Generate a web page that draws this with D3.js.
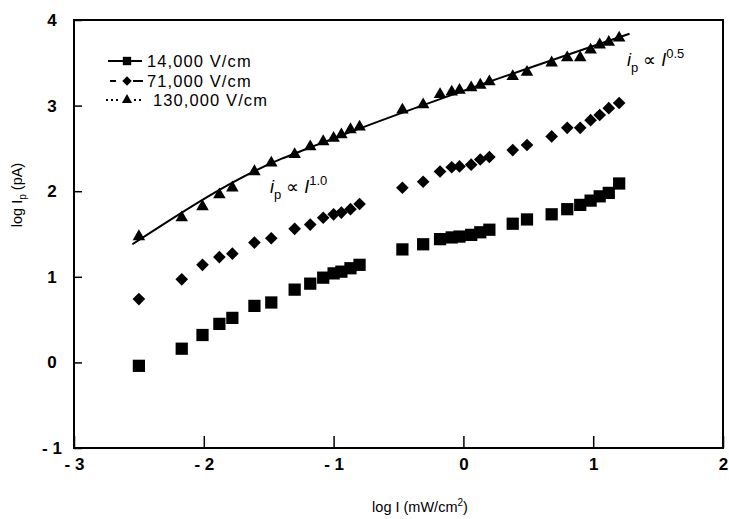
<!DOCTYPE html>
<html>
<head>
<meta charset="utf-8">
<script src="https://cdn.jsdelivr.net/npm/d3@7"></script>
<style>
  html, body { margin: 0; padding: 0; background: #fff; }
  svg { display: block; }
  text { font-family: "Liberation Sans", Arial, Helvetica, sans-serif; fill: #000; }
</style>
</head>
<body>
<svg id="chart" width="729" height="519"></svg>
<script>
// ---------------- data ----------------
const seriesNames = ["14,000 V/cm", "71,000 V/cm", "130,000 V/cm"];
const logI = [-2.50, -2.17, -2.01, -1.88, -1.78, -1.61, -1.48, -1.30, -1.18, -1.08, -1.00, -0.94, -0.87, -0.80,
              -0.47, -0.31, -0.18, -0.09, -0.03, 0.06, 0.13, 0.20, 0.38, 0.49, 0.68, 0.80, 0.90, 0.98, 1.05, 1.12, 1.20];
const ip14000 = [-0.04, 0.16, 0.32, 0.45, 0.52, 0.66, 0.70, 0.85, 0.92, 0.99, 1.04, 1.06, 1.10, 1.14,
                 1.32, 1.38, 1.44, 1.46, 1.47, 1.49, 1.52, 1.55, 1.62, 1.67, 1.73, 1.79, 1.84, 1.89, 1.94, 1.98, 2.09];
const ip71000 = [0.74, 0.97, 1.14, 1.23, 1.27, 1.40, 1.45, 1.56, 1.61, 1.69, 1.73, 1.75, 1.79, 1.85,
                 2.04, 2.11, 2.23, 2.28, 2.29, 2.31, 2.37, 2.40, 2.48, 2.54, 2.64, 2.74, 2.74, 2.83, 2.89, 2.97, 3.03];
const ip130000 = [1.47, 1.69, 1.82, 1.96, 2.04, 2.23, 2.33, 2.43, 2.52, 2.58, 2.62, 2.66, 2.72, 2.75,
                  2.95, 3.01, 3.13, 3.16, 3.18, 3.21, 3.24, 3.28, 3.34, 3.39, 3.50, 3.56, 3.56, 3.65, 3.71, 3.74, 3.79];
// fitted curve through the 130,000 V/cm data
const fitX = [-2.55, -1.40, -1.25, 1.28];
const fitY = [1.38, 2.38, 2.47, 3.84];
const xTicks = [-3, -2, -1, 0, 1, 2];
const xTickLabels = ["- 3", "- 2", "- 1", "0", "1", "2"];
const yTicks = [-1, 0, 1, 2, 3, 4];
const yTickLabels = ["- 1", "0", "1", "2", "3", "4"];

// ---------------- layout ----------------
const svg = d3.select("#chart");
const x = d3.scaleLinear().domain([-3, 2]).range([74, 723]);
const y = d3.scaleLinear().domain([-1, 4]).range([448, 20]);

// frame
svg.append("rect")
  .attr("x", x(-3)).attr("y", y(4))
  .attr("width", x(2) - x(-3)).attr("height", y(-1) - y(4))
  .attr("fill", "none").attr("stroke", "#000").attr("stroke-width", 2);

// x axis (ticks inward)
const xAxis = d3.axisBottom(x).tickValues(xTicks).tickSizeInner(-12).tickSizeOuter(0)
  .tickPadding(10).tickFormat((d, i) => xTickLabels[i]);
const gx = svg.append("g").attr("transform", `translate(0,${y(-1)})`).call(xAxis);
gx.select(".domain").remove();
gx.selectAll("line").attr("stroke", "#000").attr("stroke-width", 1.5);
gx.selectAll("text").attr("font-size", 17).attr("font-weight", "bold")
  .style("font-family", '"Liberation Sans", Arial, sans-serif');

// y axis (ticks inward)
const yAxis = d3.axisLeft(y).tickValues(yTicks).tickSizeInner(-8).tickSizeOuter(0)
  .tickFormat((d, i) => yTickLabels[i]);
const gy = svg.append("g").attr("transform", `translate(${x(-3)},0)`).call(yAxis);
gy.select(".domain").remove();
gy.selectAll("line").attr("stroke", "#000").attr("stroke-width", 1.5);
gy.selectAll("text").attr("font-size", 17).attr("font-weight", "bold")
  .attr("x", -22).attr("text-anchor", "middle")
  .style("font-family", '"Liberation Sans", Arial, sans-serif');

// axis titles
const xt = svg.append("text").attr("x", 420).attr("y", 512).attr("text-anchor", "middle")
  .attr("font-size", 14.5);
xt.append("tspan").text("log I (mW/cm");
xt.append("tspan").attr("font-size", 10).attr("dy", -6).text("2");
xt.append("tspan").attr("dy", 6).text(")");

const yt = svg.append("text").attr("transform", "translate(22,195) rotate(-90)")
  .attr("text-anchor", "middle").attr("font-size", 14.5);
yt.append("tspan").text("log I");
yt.append("tspan").attr("font-size", 10).attr("dy", 4).text("p");
yt.append("tspan").attr("dy", -4).text(" (pA)");

// fitted line
const fit = fitX.map((v, i) => [v, fitY[i]]);
svg.append("path").datum(fit)
  .attr("d", d3.line().x(d => x(d[0])).y(d => y(d[1])).curve(d3.curveMonotoneX))
  .attr("fill", "none").attr("stroke", "#000").attr("stroke-width", 2);

// markers
const sym = {
  square: d3.symbol().type(d3.symbolSquare),
  diamond: d3.symbol().type(d3.symbolSquare),
  triangle: d3.symbol().type(d3.symbolTriangle)
};
const series = [
  { vals: ip14000, shape: "square", size: 150, rot: 0 },
  { vals: ip71000, shape: "diamond", size: 80, rot: 45 },
  { vals: ip130000, shape: "triangle", size: 68, rot: 0 }
];
series.forEach(s => {
  svg.append("g").selectAll("path").data(s.vals).join("path")
    .attr("d", sym[s.shape].size(s.size)())
    .attr("transform", (d, i) => `translate(${x(logI[i])},${y(d)}) rotate(${s.rot})`)
    .attr("fill", "#000");
});

// legend
const legRows = [
  { y: 61, segs: [[108, 142, null]], shape: "square", size: 70, rot: 0, tx: 147 },
  { y: 81, segs: [[110, 116, null], [133, 143, null]], shape: "diamond", size: 45, rot: 45, tx: 147 },
  { y: 100, segs: [[106, 121, "2,3"], [134, 143, "2,3"]], shape: "triangle", size: 45, rot: 0, tx: 153 }
];
const leg = svg.append("g");
legRows.forEach((r, i) => {
  r.segs.forEach(sg => {
    leg.append("line").attr("x1", sg[0]).attr("x2", sg[1]).attr("y1", r.y).attr("y2", r.y)
      .attr("stroke", "#000").attr("stroke-width", 2).attr("stroke-dasharray", sg[2]);
  });
  leg.append("path").attr("d", sym[r.shape].size(r.size)())
    .attr("transform", `translate(127,${r.y}) rotate(${r.rot})`).attr("fill", "#000");
  leg.append("text").attr("x", r.tx).attr("y", r.y + 6).attr("font-size", 16.5)
    .attr("letter-spacing", 1.1).text(seriesNames[i]);
});

// annotations
function powerLabel(px, py, exp) {
  const t = svg.append("text").attr("x", px).attr("y", py).attr("font-size", 18);
  t.append("tspan").attr("font-style", "italic").text("i");
  t.append("tspan").attr("font-size", 13).attr("dy", 6).text("p");
  t.append("tspan").attr("dy", -6).attr("dx", 5).text("\u221D ");
  t.append("tspan").attr("font-style", "italic").text("I");
  t.append("tspan").attr("font-size", 13).attr("dy", -8).text(exp);
}
powerLabel(627, 66, "0.5");
powerLabel(270, 193, "1.0");
</script>
</body>
</html>
